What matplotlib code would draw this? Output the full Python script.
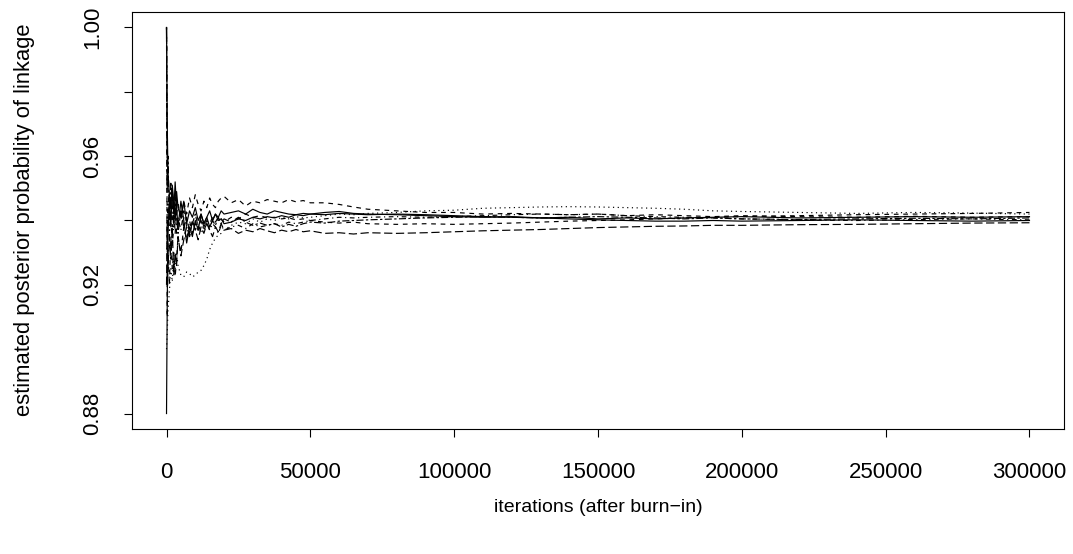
import matplotlib
matplotlib.use("Agg")
import matplotlib.pyplot as plt
from matplotlib.ticker import FixedLocator, FixedFormatter

plt.rcParams['font.family'] = ['Liberation Sans', 'DejaVu Sans']

iterations = [0, 250, 500, 1000, 1500, 2000, 2500, 3000, 3500, 4000,
              5000, 6000, 7000, 8000, 9000, 10000, 11000, 12000, 13000, 14000,
              15000, 16000, 17000, 18000, 19000, 20000,
              22500, 25000, 27500, 30000, 32500, 35000, 37500, 40000, 42500, 45000, 47500, 50000,
              55000, 60000, 65000, 70000,
              80000, 90000, 100000, 110000, 120000, 130000, 140000, 150000, 160000, 170000,
              180000, 190000, 200000,
              220000, 240000, 260000, 280000, 300000]

chain1 = [1.0, 0.97, 0.955, 0.948, 0.944, 0.951, 0.946, 0.940, 0.949, 0.944,
          0.941, 0.946, 0.939, 0.943, 0.941, 0.944, 0.940, 0.942, 0.939, 0.941,
          0.943, 0.940, 0.942, 0.941, 0.943, 0.942,
          0.9425, 0.943, 0.942, 0.9435, 0.9425, 0.942, 0.943, 0.9425, 0.942, 0.9418, 0.9422, 0.942,
          0.9425, 0.9428, 0.9422, 0.942,
          0.9418, 0.9415, 0.9412, 0.941, 0.9412, 0.9408, 0.941, 0.9405, 0.9408, 0.9405,
          0.9408, 0.941, 0.9412,
          0.9408, 0.941, 0.9412, 0.941, 0.9412]

chain2 = [1.0, 0.96, 0.95, 0.941, 0.947, 0.938, 0.944, 0.936, 0.942, 0.945,
          0.940, 0.946, 0.942, 0.947, 0.944, 0.948, 0.945, 0.943, 0.946, 0.944,
          0.947, 0.945, 0.944, 0.946, 0.947, 0.9475,
          0.9455, 0.9465, 0.9445, 0.946, 0.9455, 0.9465, 0.946, 0.9455, 0.9465, 0.9458, 0.9462, 0.9455,
          0.9455, 0.945, 0.9442, 0.9435,
          0.943, 0.9425, 0.9425, 0.942, 0.9422, 0.942, 0.9418, 0.942, 0.9415, 0.9418,
          0.9415, 0.9412, 0.9415,
          0.9412, 0.941, 0.9413, 0.941, 0.9412]

chain3 = [0.90, 0.905, 0.912, 0.918, 0.925, 0.921, 0.928, 0.924, 0.930, 0.926,
          0.923, 0.9225, 0.924, 0.9235, 0.9225, 0.923, 0.924, 0.9245, 0.926, 0.928,
          0.931, 0.933, 0.9345, 0.9355, 0.936, 0.937,
          0.9385, 0.9395, 0.939, 0.9405, 0.9395, 0.9405, 0.940, 0.941, 0.9405, 0.9412, 0.9408, 0.941,
          0.9415, 0.942, 0.9418, 0.9422,
          0.9425, 0.943, 0.9432, 0.9438, 0.944, 0.9442, 0.9443, 0.9442, 0.944, 0.9438,
          0.9435, 0.943, 0.9428,
          0.9425, 0.9422, 0.9425, 0.9423, 0.942]

chain4 = [1.0, 0.93, 0.945, 0.935, 0.942, 0.932, 0.938, 0.944, 0.936, 0.941,
          0.937, 0.943, 0.938, 0.935, 0.940, 0.937, 0.939, 0.936, 0.938, 0.940,
          0.937, 0.939, 0.938, 0.936, 0.9385, 0.937,
          0.938, 0.9385, 0.9375, 0.939, 0.938, 0.9385, 0.939, 0.9385, 0.9395, 0.939, 0.9395, 0.940,
          0.9405, 0.941, 0.9408, 0.941,
          0.9412, 0.941, 0.9412, 0.9415, 0.9418, 0.942, 0.9418, 0.942, 0.9415, 0.9412,
          0.941, 0.9408, 0.9405,
          0.9402, 0.940, 0.9403, 0.9405, 0.9402]

chain5 = [0.92, 0.94, 0.925, 0.935, 0.928, 0.938, 0.923, 0.930, 0.926, 0.935,
          0.929, 0.934, 0.938, 0.935, 0.940, 0.937, 0.934, 0.938, 0.936, 0.939,
          0.937, 0.935, 0.938, 0.9365, 0.939, 0.937,
          0.9375, 0.936, 0.937, 0.9365, 0.9375, 0.9368, 0.9362, 0.937, 0.9365, 0.9372, 0.9365, 0.9368,
          0.936, 0.9362, 0.9358, 0.9362,
          0.936, 0.9362, 0.9365, 0.9368, 0.937, 0.9372, 0.9375, 0.9378, 0.938, 0.9382,
          0.9383, 0.9385, 0.9385,
          0.9387, 0.9388, 0.939, 0.9392, 0.9393]

chain6 = [1.0, 0.95, 0.96, 0.94, 0.952, 0.945, 0.938, 0.948, 0.941, 0.936,
          0.943, 0.938, 0.941, 0.936, 0.939, 0.942, 0.938, 0.940, 0.937, 0.939,
          0.938, 0.940, 0.9385, 0.941, 0.939, 0.9405,
          0.9395, 0.941, 0.9395, 0.9385, 0.9392, 0.9385, 0.939, 0.938, 0.9388, 0.9382, 0.939, 0.9395,
          0.9392, 0.9398, 0.940, 0.9402,
          0.9405, 0.9408, 0.941, 0.9412, 0.941, 0.9408, 0.941, 0.9412, 0.941, 0.9408,
          0.9405, 0.9408, 0.9405,
          0.9403, 0.9405, 0.9407, 0.9405, 0.9408]

chain7 = [0.88, 0.915, 0.935, 0.948, 0.938, 0.950, 0.942, 0.952, 0.944, 0.938,
          0.946, 0.940, 0.933, 0.938, 0.935, 0.940, 0.937, 0.942, 0.939, 0.941,
          0.938, 0.940, 0.942, 0.940, 0.9405, 0.939,
          0.9395, 0.9405, 0.940, 0.941, 0.9405, 0.9412, 0.9408, 0.9415, 0.941, 0.9418, 0.9415, 0.942,
          0.9418, 0.9422, 0.942, 0.9418,
          0.942, 0.9418, 0.9415, 0.9412, 0.941, 0.9408, 0.9405, 0.9402, 0.940, 0.9398,
          0.9398, 0.940, 0.9398,
          0.940, 0.9402, 0.940, 0.9398, 0.940]

chain8 = [1.0, 0.91, 0.93, 0.92, 0.935, 0.925, 0.930, 0.9225, 0.928, 0.935,
          0.930, 0.938, 0.934, 0.940, 0.936, 0.939, 0.937, 0.941, 0.938, 0.940,
          0.939, 0.941, 0.9395, 0.941, 0.9405, 0.9395,
          0.941, 0.9405, 0.942, 0.941, 0.9415, 0.9408, 0.941, 0.9405, 0.9408, 0.9402, 0.9405, 0.940,
          0.9395, 0.9392, 0.9395, 0.939,
          0.9388, 0.939, 0.9388, 0.939, 0.9392, 0.9395, 0.9398, 0.940, 0.9402, 0.9405,
          0.9408, 0.941, 0.9412,
          0.9415, 0.9418, 0.942, 0.9422, 0.9425]

chains = [chain1, chain2, chain3, chain4, chain5, chain6, chain7, chain8]
# R lty 1..6 then 1, 2 (dash units relative to line width)
dash_styles = [None, (4, 4), (1, 3), (1, 3, 4, 3), (7, 3), (2, 2, 6, 2), None, (4, 4)]

y_ticks = [0.88, 0.90, 0.92, 0.94, 0.96, 0.98, 1.00]
y_labels = ["0.88", "", "0.92", "", "0.96", "", "1.00"]
x_ticks = [0, 50000, 100000, 150000, 200000, 250000, 300000]
x_labels = ["0", "50000", "100000", "150000", "200000", "250000", "300000"]

W, H = 1073, 554
fig = plt.figure(figsize=(W / 100, H / 100), dpi=100)
left, right, top, bottom = 132, 1064, 12, 429
ax = fig.add_axes([left / W, 1 - bottom / H, (right - left) / W, (bottom - top) / H])

for vals, ds in zip(chains, dash_styles):
    line, = ax.plot(iterations, vals, color='black', lw=0.85, solid_joinstyle='round')
    if ds is not None:
        line.set_dashes(ds)

xr = 300000 - 0
yr = 1.00 - 0.88
ax.set_xlim(0 - 0.04 * xr, 300000 + 0.04 * xr)
ax.set_ylim(0.88 - 0.04 * yr, 1.00 + 0.04 * yr)

ax.yaxis.set_major_locator(FixedLocator(y_ticks))
ax.yaxis.set_major_formatter(FixedFormatter(y_labels))
ax.xaxis.set_major_locator(FixedLocator(x_ticks))
ax.xaxis.set_major_formatter(FixedFormatter(x_labels))

for sp in ax.spines.values():
    sp.set_linewidth(0.8)
    sp.set_color('black')

ax.tick_params(axis='both', direction='out', length=6, width=0.8, colors='black',
               labelsize=16)
ax.tick_params(axis='x', pad=18)
ax.tick_params(axis='y', pad=15)
for lab in ax.get_yticklabels():
    lab.set_rotation(90)
    lab.set_verticalalignment('center')

fig.text((left + right) / 2 / W, 1 - 508 / H, "iterations (after burn\u2212in)",
         ha='center', va='center', fontsize=14)
fig.text(25 / W, 1 - 220 / H, "estimated posterior probability of linkage",
         ha='center', va='center', rotation=90, fontsize=15.8)

fig.savefig("out.png", dpi=100)
